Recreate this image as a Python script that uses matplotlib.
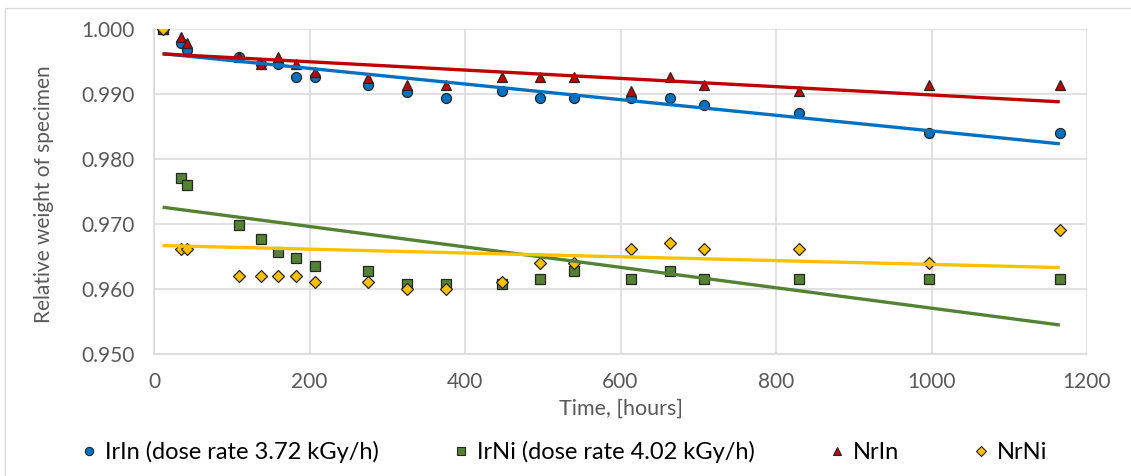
import matplotlib
matplotlib.use("Agg")
import matplotlib.pyplot as plt
import numpy as np
from matplotlib.patches import Rectangle

plt.rcParams["font.family"] = ["Lato", "DejaVu Sans"]

# time points, hours
hours = [11, 35, 43, 109, 137, 160, 182, 207, 275, 326, 375, 448, 496, 540,
         613, 663, 708, 830, 997, 1165]

irin = [1.000, 0.9978, 0.9967, 0.9956, 0.9945, 0.9946, 0.9925, 0.9925, 0.9914, 0.9903,
        0.9893, 0.9904, 0.9893, 0.9893, 0.9893, 0.9893, 0.9882, 0.9871, 0.9840, 0.9840]
irni = [1.000, 0.9770, 0.9759, 0.9698, 0.9677, 0.9657, 0.9647, 0.9636, 0.9627, 0.9607,
        0.9607, 0.9607, 0.9616, 0.9627, 0.9616, 0.9627, 0.9616, 0.9616, 0.9616, 0.9616]
nrin = [1.000, 0.9988, 0.9978, 0.9956, 0.9946, 0.9957, 0.9946, 0.9934, 0.9924, 0.9914,
        0.9914, 0.9925, 0.9925, 0.9925, 0.9905, 0.9925, 0.9914, 0.9904, 0.9914, 0.9914]
nrni = [1.000, 0.9661, 0.9661, 0.9620, 0.9620, 0.9620, 0.9620, 0.9610, 0.9610, 0.9600,
        0.9600, 0.9610, 0.9640, 0.9640, 0.9661, 0.9671, 0.9661, 0.9661, 0.9640, 0.9690]

labels = ["IrIn (dose rate 3.72 kGy/h)", "IrNi (dose rate 4.02 kGy/h)", "NrIn", "NrNi"]
colors = ["#0070C0", "#548235", "#C00000", "#FFC000"]
markers = ["o", "s", "^", "D"]
msizes = [7.2, 6.6, 7.6, 6.0]

fig = plt.figure(figsize=(11.31, 4.76), dpi=100)
ax = fig.add_axes([0.1362, 0.2563, 0.8249, 0.6834])

# chart border like the spreadsheet frame
fig.patches.append(Rectangle((5 / 1131, -0.1), 1.2, (476 - 8) / 476 + 0.1,
                             transform=fig.transFigure, fill=False,
                             edgecolor="#D9D9D9", linewidth=1.0))

x = np.array(hours, dtype=float)
series = [irin, irni, nrin, nrni]
for y, c, m, ms, lab in zip(series, colors, markers, msizes, labels):
    ax.plot(x, y, linestyle="none", marker=m, markersize=ms,
            markerfacecolor=c, markeredgecolor="#262626",
            markeredgewidth=0.9, label=lab, zorder=3)

# linear trendlines
for y, c in zip(series, colors):
    k, b = np.polyfit(x, y, 1)
    xs = np.array([x.min(), x.max()])
    ax.plot(xs, k * xs + b, color=c, linewidth=2.4, zorder=4,
            solid_capstyle="butt")

ax.set_xlim(0, 1200)
ax.set_ylim(0.950, 1.000)
ax.set_xticks(np.arange(0, 1201, 200))
ax.set_yticks(np.arange(0.950, 1.0001, 0.010))
ax.yaxis.set_major_formatter(matplotlib.ticker.FormatStrFormatter("%.3f"))
ax.grid(True, color="#D9D9D9", linewidth=1.1)
ax.set_axisbelow(True)
for s in ["top", "right"]:
    ax.spines[s].set_visible(False)
for s in ["left", "bottom"]:
    ax.spines[s].set_color("#D9D9D9")
    ax.spines[s].set_linewidth(1.1)
ax.tick_params(length=0, labelsize=15, labelcolor="#595959")
ax.tick_params(axis="y", pad=14)
ax.tick_params(axis="x", pad=13)

ax.set_xlabel("Time, [hours]", fontsize=15.5, color="#595959", labelpad=5)
ax.set_ylabel("Relative weight of specimen", fontsize=15, color="#595959",
              labelpad=7)
ax.yaxis.set_label_coords(-0.107, 0.49)

leg_handles = []
for c, m in zip(colors, markers):
    leg_handles.append(plt.Line2D([], [], linestyle="none", marker=m,
                                  markersize=6 if m != "D" else 5,
                                  markerfacecolor=c, markeredgecolor="#262626",
                                  markeredgewidth=0.8))
fig.legend(leg_handles, labels, loc="center", bbox_to_anchor=(0.4993, 1 - 452 / 476),
           ncol=4, frameon=False, fontsize=17, handlelength=0.6,
           handletextpad=0.4, columnspacing=3.15, labelcolor="#000000")

fig.savefig("out.png", dpi=100)
